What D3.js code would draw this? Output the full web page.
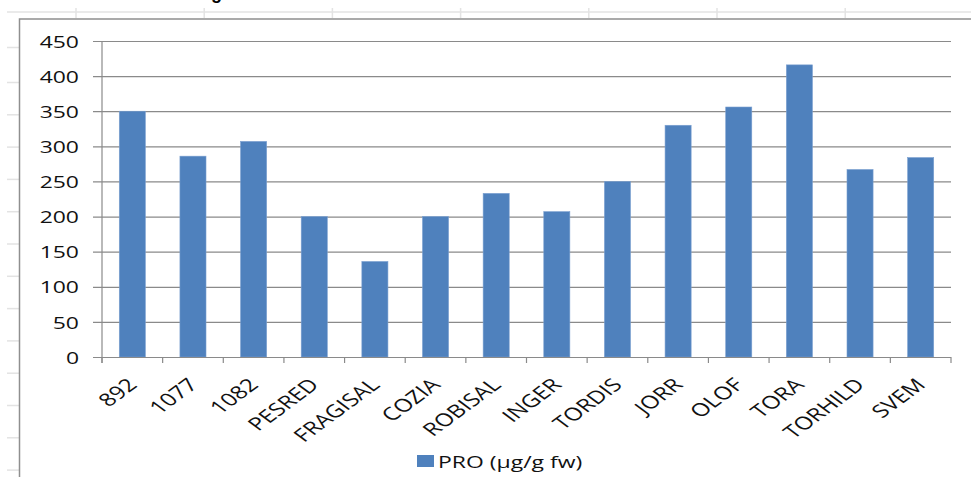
<!DOCTYPE html>
<html>
<head>
<meta charset="utf-8">
<script src="https://cdn.jsdelivr.net/npm/d3@7"></script>
<style>
  html, body { margin: 0; padding: 0; background: #fff; }
  svg { display: block; }
</style>
</head>
<body>
<div id="chart"></div>
<script>
// data
const categories = ["892", "1077", "1082", "PESRED", "FRAGISAL", "COZIA", "ROBISAL",
  "INGER", "TORDIS", "JORR", "OLOF", "TORA", "TORHILD", "SVEM"];
const proValues = [350, 286, 307, 200, 136, 200, 233, 207, 250, 330, 356, 416, 267, 284];
const yTicks = [0, 50, 100, 150, 200, 250, 300, 350, 400, 450];
const seriesName = "PRO (µg/g fw)";

const W = 971, H = 477;
const plot = { left: 102, right: 951, top: 41, bottom: 357 };
const stretch = 1.35; // the screenshot is widened horizontally
const font = "'Open Sans', sans-serif";

const svg = d3.select("#chart").append("svg")
  .attr("width", W)
  .attr("height", H);

// spreadsheet cells behind the chart object
svg.append("line")
  .attr("x1", 7).attr("x2", W).attr("y1", 12).attr("y2", 12)
  .attr("stroke", "#e3e3e3").attr("stroke-width", 1.5);
for (let i = 0; i < 7; i++) {
  svg.append("line")
    .attr("x1", 76 + i * 128.2).attr("x2", 76 + i * 128.2)
    .attr("y1", 8).attr("y2", 18)
    .attr("stroke", "#e3e3e3").attr("stroke-width", 1.5);
}
for (let i = 0; i < 14; i++) {
  const ry = i === 0 ? 47.5 : 82.5 + (i - 1) * 32.3;
  svg.append("line")
    .attr("x1", 7).attr("x2", 19).attr("y1", ry).attr("y2", ry)
    .attr("stroke", "#e3e3e3").attr("stroke-width", 1.5);
}

// cut-off bold title from the page above
svg.append("text")
  .attr("x", 211).attr("y", -1)
  .attr("font-family", "'Liberation Sans', Arial, sans-serif")
  .attr("font-weight", "bold")
  .attr("font-size", 18)
  .text("g");

// chart frame
svg.append("path")
  .attr("d", `M19.5,${H + 5} V19 H${W + 5}`)
  .attr("fill", "none")
  .attr("stroke", "#8f8f8f")
  .attr("stroke-width", 1.5);

const x = d3.scaleBand()
  .domain(categories)
  .range([plot.left, plot.right])
  .paddingInner(0.57)
  .paddingOuter(0.285);

const y = d3.scaleLinear()
  .domain([0, 450])
  .range([plot.bottom, plot.top]);

// gridlines + y ticks
svg.append("g").selectAll("line")
  .data(yTicks)
  .join("line")
  .attr("x1", plot.left - 9)
  .attr("x2", plot.right)
  .attr("y1", d => y(d) + 0.5)
  .attr("y2", d => y(d) + 0.5)
  .attr("stroke", "#8a8a8a")
  .attr("stroke-width", 1.2);

// y labels
svg.append("g").selectAll("text")
  .data(yTicks)
  .join("text")
  .attr("transform", d => `translate(79,${y(d) + 0.5}) scale(${stretch},1)`)
  .attr("text-anchor", "end")
  .attr("dy", "0.36em")
  .attr("font-family", font)
  .attr("font-size", 17)
  .attr("fill", "#111")
  .text(d => d);

// bars
svg.append("g").selectAll("rect")
  .data(proValues)
  .join("rect")
  .attr("x", (d, i) => x(categories[i]))
  .attr("width", x.bandwidth())
  .attr("y", d => y(d))
  .attr("height", d => y(0) - y(d))
  .attr("fill", "#4f81bd")
  .attr("stroke", "#7a9fd0")
  .attr("stroke-width", 0.6);

// axes lines
const boundaries = categories.map(c => x(c) - x.step() * x.paddingInner() / 2)
  .concat([plot.right]);
svg.append("line")
  .attr("x1", plot.left).attr("x2", plot.left)
  .attr("y1", plot.top).attr("y2", plot.bottom + 6)
  .attr("stroke", "#8a8a8a").attr("stroke-width", 1.2);
svg.append("line")
  .attr("x1", plot.left).attr("x2", plot.right)
  .attr("y1", y(0) + 0.5).attr("y2", y(0) + 0.5)
  .attr("stroke", "#8a8a8a").attr("stroke-width", 1.2);
svg.append("g").selectAll("line")
  .data(boundaries)
  .join("line")
  .attr("x1", d => d).attr("x2", d => d)
  .attr("y1", y(0)).attr("y2", y(0) + 6)
  .attr("stroke", "#8a8a8a").attr("stroke-width", 1.2);

// x labels, rotated 45deg then widened like the rest of the screenshot
svg.append("g").selectAll("text")
  .data(categories)
  .join("text")
  .attr("transform", c => `translate(${x(c) + x.bandwidth() / 2 + 6},${y(0) + 29}) scale(${stretch},1) rotate(-45)`)
  .attr("text-anchor", "end")
  .attr("font-family", font)
  .attr("font-size", 18)
  .attr("fill", "#111")
  .text(c => c);

// legend
const legend = svg.append("g").attr("transform", "translate(417,455)");
legend.append("rect")
  .attr("width", 17).attr("height", 12)
  .attr("fill", "#4f81bd");
legend.append("text")
  .attr("transform", `translate(21,6.5) scale(${stretch},1)`)
  .attr("dy", "0.36em")
  .attr("font-family", font)
  .attr("font-size", 17)
  .attr("fill", "#111")
  .text(seriesName);
</script>
</body>
</html>
